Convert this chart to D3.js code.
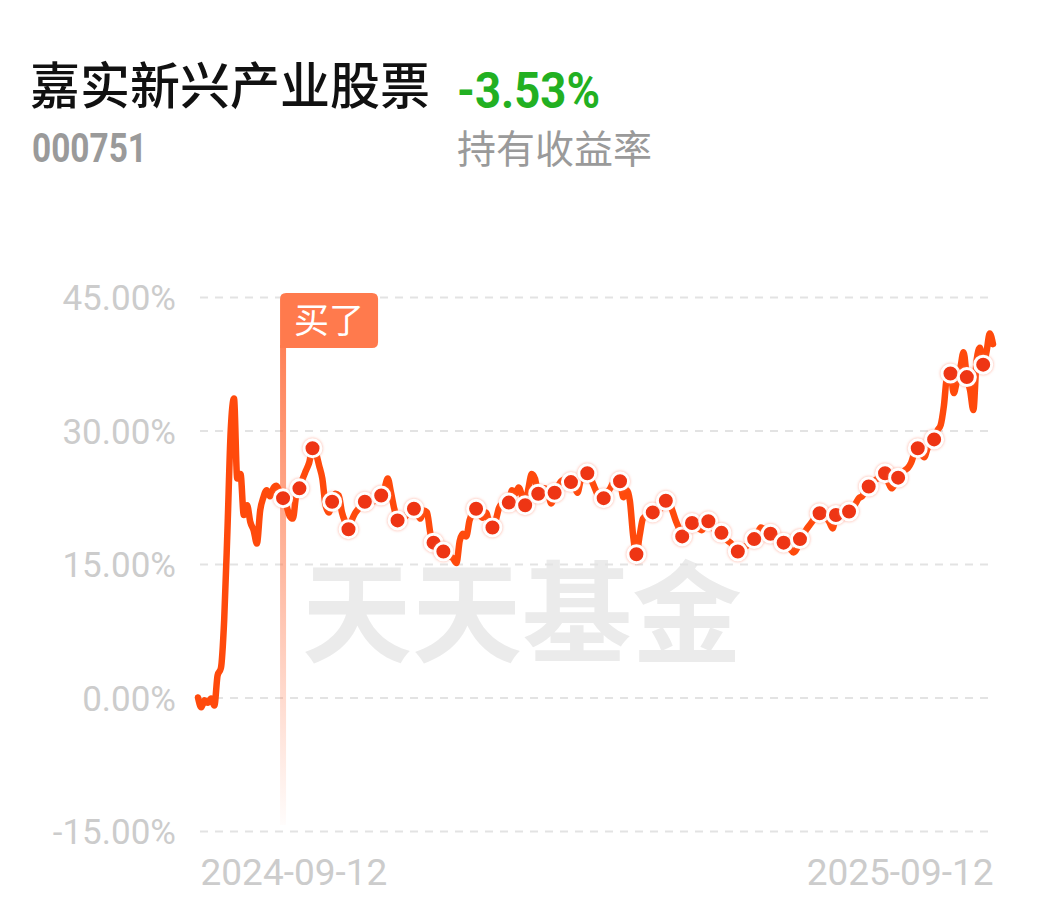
<!DOCTYPE html>
<html>
<head>
<meta charset="utf-8">
<script src="https://cdn.jsdelivr.net/npm/d3@7/dist/d3.min.js"></script>
<style>
  html, body { margin: 0; padding: 0; background: #fff; }
  svg { display: block; }
</style>
</head>
<body>
<svg id="chart" width="1042" height="912"></svg>
<script>
// ---------- data ----------
const fundName = "嘉实新兴产业股票";
const fundCode = "000751";
const holdReturn = "-3.53%";
const holdReturnLabel = "持有收益率";
const watermark = "天天基金";
const buyLabel = "买了";

// cumulative return (%) per trading day, 2024-09-12 .. 2025-09-12
const returns = [
  0.0, -1.1, -0.3, -0.6, -0.1, -0.9, 2.5, 3.3, 8.7, 18.8,
  30.0, 33.6, 24.6, 25.1, 20.5, 21.6, 19.7, 18.8, 17.3, 21.0,
  22.5, 23.3, 22.6, 23.5, 23.8, 23.0, 22.4, 21.6, 20.4, 20.1,
  22.7, 23.5, 24.6, 25.5, 26.4, 28.0, 27.5, 26.1, 24.6, 21.6,
  20.8, 22.0, 22.9, 22.7, 20.8, 19.7, 18.9, 19.9, 20.7, 21.2,
  21.8, 22.0, 21.5, 21.9, 22.1, 22.4, 22.7, 23.5, 24.6, 23.0,
  21.2, 19.9, 20.0, 20.2, 20.6, 21.0, 21.2, 20.7, 20.1, 21.0,
  20.8, 18.5, 17.4, 17.1, 16.7, 16.4, 16.3, 15.9, 15.6, 15.1,
  17.6, 18.4, 18.1, 19.9, 20.8, 21.2, 20.7, 20.2, 20.8, 19.7,
  19.1, 19.9, 21.3, 21.8, 22.1, 21.9, 23.3, 22.9, 23.6, 22.7,
  21.6, 23.5, 25.1, 24.6, 22.9, 23.3, 23.5, 23.0, 21.8, 23.0,
  23.7, 24.3, 24.5, 24.6, 24.2, 23.8, 23.0, 24.4, 24.7, 25.2,
  24.6, 23.8, 22.9, 22.5, 22.4, 23.0, 23.5, 24.2, 24.4, 24.3,
  22.5, 23.3, 22.1, 18.2, 16.1, 18.2, 20.1, 20.4, 20.7, 20.8,
  20.6, 21.0, 21.7, 22.1, 21.9, 21.0, 19.9, 19.0, 18.1, 19.1,
  19.4, 19.6, 19.2, 19.0, 18.8, 19.4, 19.8, 19.2, 18.8, 18.3,
  18.5, 18.0, 17.6, 17.3, 16.9, 16.4, 16.6, 16.9, 17.1, 17.5,
  17.8, 18.4, 19.1, 18.9, 18.5, 18.4, 18.2, 18.0, 17.6, 17.4,
  17.0, 16.7, 16.3, 16.7, 17.8, 18.3, 18.9, 19.4, 19.9, 20.4,
  20.7, 20.8, 20.3, 19.7, 19.0, 20.5, 20.3, 20.6, 20.8, 20.9,
  21.3, 21.8, 22.4, 22.6, 23.3, 23.7, 24.0, 24.4, 24.7, 25.1,
  25.2, 24.2, 23.5, 24.0, 24.7, 24.9, 25.5, 25.8, 26.4, 27.5,
  28.0, 27.5, 27.0, 28.0, 28.5, 29.0, 30.0, 30.6, 32.8, 36.2,
  36.4, 34.2, 35.6, 37.0, 38.8, 36.0, 34.5, 32.3, 37.9, 39.3,
  37.4, 38.8, 40.9, 39.7
];

// trading-day indices with investment markers (dots)
const dotIndex = [26, 31, 35, 41, 46, 51, 56, 61, 66, 72, 75, 85, 90, 95, 100,
  104, 109, 114, 119, 124, 129, 134, 139, 143, 148, 151, 156, 160, 165, 170,
  175, 179, 184, 190, 195, 199, 205, 210, 214, 220, 225, 230, 235, 240];

const buyIndex = 26;

const yTicks = [45, 30, 15, 0, -15];
const xTickIndex = [0, 243];
const xTickLabels = ["2024-09-12", "2025-09-12"];

// ---------- drawing ----------
const svg = d3.select("#chart");
const cjk = "'Noto Sans CJK SC', 'Noto Sans', sans-serif";
const num = "Roboto, 'Noto Sans', sans-serif";

const x = d3.scaleLinear().domain([0, returns.length - 1]).range([198, 993]);
const y = d3.scaleLinear().domain([-15, 45]).range([831, 297]);

// header
svg.append("text").attr("x", 30).attr("y", 104)
  .attr("font-family", cjk).attr("font-weight", 500).attr("font-size", 50).attr("fill", "#111")
  .text(fundName);
svg.append("text").attr("x", 457).attr("y", 108)
  .attr("font-family", num).attr("font-weight", 700).attr("font-size", 50)
  .attr("fill", "#22b022").attr("textLength", 143).attr("lengthAdjust", "spacingAndGlyphs")
  .text(holdReturn);
svg.append("text").attr("x", 32).attr("y", 162)
  .attr("font-family", num).attr("font-weight", 700).attr("font-size", 41)
  .attr("fill", "#9a9a9a").attr("textLength", 115).attr("lengthAdjust", "spacingAndGlyphs")
  .text(fundCode);
svg.append("text").attr("x", 457).attr("y", 163)
  .attr("font-family", cjk).attr("font-size", 39).attr("fill", "#9a9a9a")
  .text(holdReturnLabel);

// watermark
svg.append("text").attr("x", 302).attr("y", 654)
  .attr("font-family", cjk).attr("font-weight", 700).attr("font-size", 110)
  .attr("fill", "#ebebeb").text(watermark);

// grid + y axis
const yAxis = d3.axisLeft(y).tickValues(yTicks)
  .tickFormat(d => d.toFixed(2) + "%")
  .tickSize(0).tickPadding(0);
const gy = svg.append("g").attr("transform", "translate(176,0)").call(yAxis);
gy.select(".domain").remove();
gy.selectAll("text").attr("font-family", num).attr("font-size", 35)
  .attr("fill", "#cccccc").attr("dy", "0.36em");

const grid = d3.axisLeft(y).tickValues(yTicks).tickFormat("").tickSize(-(990 - 200));
const gg = svg.append("g").attr("transform", "translate(200,0)").call(grid);
gg.select(".domain").remove();
gg.selectAll("line").attr("stroke", "#e3e3e3").attr("stroke-width", 2.2)
  .attr("stroke-dasharray", "8,7");

// x axis
const xAxis = d3.axisBottom(x).tickValues(xTickIndex)
  .tickFormat((d, i) => xTickLabels[i]).tickSize(0).tickPadding(0);
const gx = svg.append("g").attr("transform", "translate(0,885)").call(xAxis);
gx.select(".domain").remove();
gx.selectAll("text").attr("font-family", num).attr("font-size", 37)
  .attr("fill", "#cccccc").attr("dy", 0)
  .attr("text-anchor", (d, i) => i === 0 ? "start" : "end")
  .attr("dx", (d, i) => i === 0 ? 2 : 0);

// buy marker vertical line with fading gradient
const defs = svg.append("defs");
const grad = defs.append("linearGradient").attr("id", "buyGrad")
  .attr("x1", 0).attr("y1", 0).attr("x2", 0).attr("y2", 1);
grad.append("stop").attr("offset", "0%").attr("stop-color", "#ff7a4d").attr("stop-opacity", 0.95);
grad.append("stop").attr("offset", "45%").attr("stop-color", "#ff7a4d").attr("stop-opacity", 0.55);
grad.append("stop").attr("offset", "100%").attr("stop-color", "#ff7a4d").attr("stop-opacity", 0.02);

const bx = x(buyIndex);
svg.append("rect").attr("x", bx - 3).attr("y", 345).attr("width", 6)
  .attr("height", 480).attr("fill", "url(#buyGrad)");

// flag label
const fx = bx - 3, fy = 293, fw = 98, fh = 55, r = 6;
svg.append("path")
  .attr("d", `M${fx},${fy + r} Q${fx},${fy} ${fx + r},${fy} L${fx + fw - r},${fy} Q${fx + fw},${fy} ${fx + fw},${fy + r}
    L${fx + fw},${fy + fh - r} Q${fx + fw},${fy + fh} ${fx + fw - r},${fy + fh} L${fx},${fy + fh} Z`)
  .attr("fill", "#ff7a4d");
svg.append("text").attr("x", fx + fw / 2).attr("y", fy + 40)
  .attr("text-anchor", "middle").attr("font-family", cjk).attr("font-size", 35)
  .attr("fill", "#fff").text(buyLabel);

// line
const line = d3.line().x((d, i) => x(i)).y(d => y(d)).curve(d3.curveMonotoneX);
svg.append("path").datum(returns).attr("d", line)
  .attr("fill", "none").attr("stroke", "#ff4a0c").attr("stroke-width", 6.5)
  .attr("stroke-linejoin", "round").attr("stroke-linecap", "round");

// dots
svg.append("g").selectAll("circle").data(dotIndex).join("circle")
  .attr("cx", d => x(d)).attr("cy", d => y(returns[d])).attr("r", 8.5)
  .attr("fill", "#ee3514").attr("stroke", "#fff").attr("stroke-width", 3)
  .style("filter", "drop-shadow(0px 0px 1.5px rgba(255,120,90,0.6))");
</script>
</body>
</html>
